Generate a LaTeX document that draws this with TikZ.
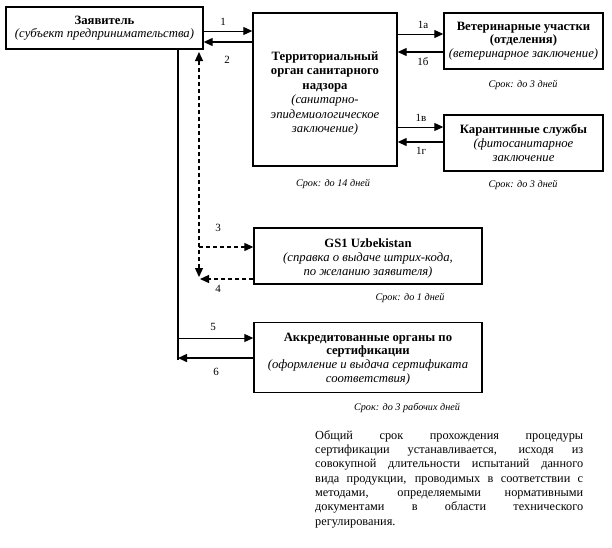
\documentclass[tikz,border=0pt]{standalone}
\usepackage{fontspec}
\setmainfont{Liberation Serif}
\usetikzlibrary{arrows.meta}
\begin{document}
\begin{tikzpicture}[x=1pt,y=-1pt,
  box/.style={draw, line width=1.4pt, inner sep=2pt, align=center, font=\fontsize{12.7}{14.3}\selectfont},
  txt/.style={inner sep=0pt, align=center, font=\fontsize{12.7}{14.4}\selectfont},
  arr/.style={line width=1pt, -{Triangle[length=9pt,width=8pt]}},
  arrboth/.style={line width=1.2pt, {Triangle[length=9pt,width=8pt]}-{Triangle[length=9pt,width=8pt]}},
  dsh/.style={dash pattern=on 4pt off 3pt},
  lbl/.style={font=\fontsize{11}{13}\selectfont, inner sep=0},
  term/.style={font=\fontsize{10.2}{12}\selectfont\itshape, inner sep=0}]
\useasboundingbox (0,0) rectangle (612,547);
% boxes
\node[box, minimum width=197pt, minimum height=42pt, font=\fontsize{12.7}{12.8}\selectfont] (app) at (104.5,28)
  {\textbf{Заявитель}\\\textit{(субъект предпринимательства)}};
\node[box, minimum width=144pt, minimum height=153pt] (ter) at (325,89.5) {};
\node[txt] (tertxt) at (325,93.5)
  {\textbf{Территориальный}\\\textbf{орган санитарного}\\\textbf{надзора}\\\textit{(санитарно-}\\\textit{эпидемиологическое}\\\textit{заключение)}};
\node[box, minimum width=159pt, minimum height=56pt, font=\fontsize{12.7}{13.2}\selectfont] (vet) at (523.5,41)
  {\textbf{Ветеринарные участки}\\\textbf{(отделения)}\\\textit{(ветеринарное заключение)}};
\node[box, minimum width=159pt, minimum height=56pt] (kar) at (523.5,143)
  {\textbf{Карантинные службы}\\\textit{(фитосанитарное}\\\textit{заключение}};
\node[box, minimum width=228pt, minimum height=56pt] (gs) at (368,256) {};
\node[txt, font=\fontsize{12.7}{13.6}\selectfont] (gstxt) at (368,258.5)
  {\textbf{GS1 Uzbekistan}\\\textit{(справка о выдаче штрих-кода,}\\\textit{по желанию заявителя)}};
\node[box, minimum width=228pt, minimum height=70pt] (acc) at (368,357.5) {};
\node[txt, font=\fontsize{12.7}{13.8}\selectfont] (acctxt) at (368,359)
  {\textbf{Аккредитованные органы по}\\\textbf{сертификации}\\\textit{(оформление и выдача сертификата}\\\textit{соответствия)}};
% terms
\node[term] (t1) at (333,184) {Срок: до 14 дней};
\node[term] (t2) at (523,85) {Срок: до 3 дней};
\node[term] (t3) at (523,185) {Срок: до 3 дней};
\node[term] (t4) at (410,298) {Срок: до 1 дней};
\node[term] (t5) at (407,408) {Срок: до 3 рабочих дней};
% connectors
\draw[arr] (app.east |- 0,31) -- (ter.west |- 0,31);
\draw[arr, line width=1.3pt] (ter.west |- 0,42) -- (app.east |- 0,42);
\draw[arr] (ter.east |- 0,34) -- (vet.west |- 0,34);
\draw[arr, line width=1.3pt] (vet.west |- 0,52) -- (ter.east |- 0,52);
\draw[arr] (ter.east |- 0,127) -- (kar.west |- 0,127);
\draw[arr, line width=1.3pt] (kar.west |- 0,142) -- (ter.east |- 0,142);
% dashed branch
\coordinate (dtop) at (199,52);
\coordinate (dbot) at (199,277);
\coordinate (d3) at (199,247);
\coordinate (d4) at (200,279);
\draw[arrboth, dsh] (dbot) -- (dtop);
\draw[arr, line width=1.2pt, dsh] (d3) -- (gs.west |- d3);
\draw[arr, line width=1.2pt, dsh] (gs.west |- d4) -- (d4);
% solid branch
\coordinate (stop) at (app.south -| 178,0);
\coordinate (sbot) at (178,359.5);
\coordinate (s5) at (178,338);
\coordinate (s6) at (178,358);
\draw[line width=1.4pt] (stop) -- (sbot);
\draw[arr] (s5) -- (acc.west |- s5);
\draw[arr, line width=1.5pt] (acc.west |- s6) -- (s6);
% labels
\node[lbl] (l1) at (223,22) {1};
\node[lbl] (l2) at (227,60) {2};
\node[lbl] (l1a) at (423,25) {1а};
\node[lbl] (l1b) at (423,62) {1б};
\node[lbl] (l1v) at (421,118) {1в};
\node[lbl] (l1g) at (421,151) {1г};
\node[lbl] (l3) at (218,228) {3};
\node[lbl] (l4) at (218,289) {4};
\node[lbl] (l5) at (213,327) {5};
\node[lbl] (l6) at (216,372) {6};
% paragraph
\node[anchor=north west, inner sep=0] (par) at (315,430) {\parbox{268pt}{\fontsize{12.3}{14.35}\selectfont\tolerance=10000\hyphenpenalty=10000\parindent=0pt
Общий срок прохождения процедуры\linebreak
сертификации устанавливается, исходя из\linebreak
совокупной длительности испытаний данного\linebreak
вида продукции, проводимых в соответствии с\linebreak
методами, определяемыми нормативными\linebreak
документами в области технического\linebreak
регулирования.}};
\end{tikzpicture}
\end{document}
